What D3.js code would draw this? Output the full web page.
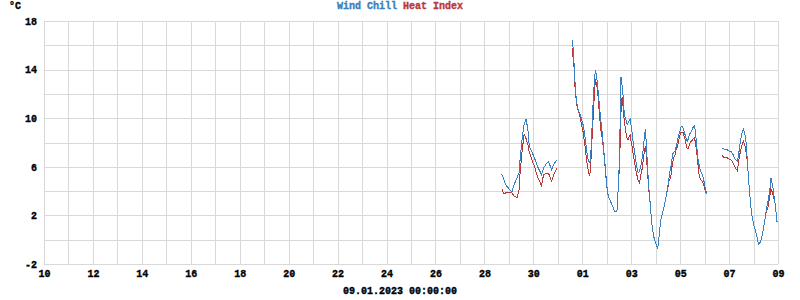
<!DOCTYPE html>
<html>
<head>
<meta charset="utf-8">
<script src="https://cdn.jsdelivr.net/npm/d3@7"></script>
<style>
    body { margin: 0; background: #fff; }
    svg text { font-family: "Liberation Mono", "DejaVu Sans Mono", monospace; font-size: 10px; font-weight: bold; fill: #000; stroke: #000; stroke-width: 0.35px; }
    svg tspan { stroke-width: 0.35px; }
    .grid line { stroke: #d9d9d9; shape-rendering: crispEdges; }
    .grid .domain { display: none; }
    .axis .domain { display: none; }
    .axis line { display: none; }
    .series { fill: none; stroke-width: 1; shape-rendering: crispEdges; }
</style>
</head>
<body>
<div id="chart"></div>
<script>
// hourly readings, null = no data
const times = [
    "2022-12-28 17:00", "2022-12-28 19:00", "2022-12-28 21:00",
    "2022-12-29 01:00", "2022-12-29 03:00", "2022-12-29 05:00", "2022-12-29 08:00", "2022-12-29 10:00",
    "2022-12-29 11:00", "2022-12-29 13:00", "2022-12-29 15:00", "2022-12-29 17:00", "2022-12-29 19:00",
    "2022-12-29 20:00", "2022-12-29 23:00",
    "2022-12-30 01:00", "2022-12-30 04:00", "2022-12-30 08:00", "2022-12-30 10:00", "2022-12-30 13:00",
    "2022-12-30 15:00", "2022-12-30 18:00", "2022-12-30 20:00", "2022-12-30 23:00",
    "2022-12-31 06:00",
    "2022-12-31 14:00", "2022-12-31 15:00", "2022-12-31 16:00", "2022-12-31 17:00", "2022-12-31 18:00",
    "2022-12-31 19:00", "2022-12-31 20:00", "2022-12-31 21:00", "2022-12-31 22:00", "2022-12-31 23:00",
    "2023-01-01 00:00", "2023-01-01 01:00", "2023-01-01 02:00", "2023-01-01 03:00", "2023-01-01 04:00",
    "2023-01-01 05:00", "2023-01-01 06:00", "2023-01-01 07:00", "2023-01-01 08:00", "2023-01-01 09:00",
    "2023-01-01 10:00", "2023-01-01 11:00", "2023-01-01 12:00", "2023-01-01 13:00", "2023-01-01 14:00",
    "2023-01-01 15:00", "2023-01-01 16:00", "2023-01-01 17:00", "2023-01-01 18:00", "2023-01-01 19:00",
    "2023-01-01 20:00", "2023-01-01 21:00", "2023-01-01 22:00", "2023-01-01 23:00",
    "2023-01-02 00:00", "2023-01-02 01:00", "2023-01-02 02:00", "2023-01-02 03:00", "2023-01-02 04:00",
    "2023-01-02 05:00", "2023-01-02 06:00", "2023-01-02 07:00", "2023-01-02 08:00", "2023-01-02 09:00",
    "2023-01-02 10:00", "2023-01-02 11:00", "2023-01-02 12:00", "2023-01-02 13:00", "2023-01-02 14:00",
    "2023-01-02 15:00", "2023-01-02 16:00", "2023-01-02 17:00", "2023-01-02 18:00", "2023-01-02 19:00",
    "2023-01-02 20:00", "2023-01-02 21:00", "2023-01-02 22:00", "2023-01-02 23:00",
    "2023-01-03 00:00", "2023-01-03 01:00", "2023-01-03 02:00", "2023-01-03 03:00", "2023-01-03 04:00",
    "2023-01-03 05:00", "2023-01-03 06:00", "2023-01-03 07:00", "2023-01-03 08:00", "2023-01-03 09:00",
    "2023-01-03 10:00", "2023-01-03 11:00", "2023-01-03 12:00", "2023-01-03 13:00", "2023-01-03 14:00",
    "2023-01-03 15:00", "2023-01-03 16:00", "2023-01-03 17:00", "2023-01-03 18:00", "2023-01-03 19:00",
    "2023-01-03 20:00", "2023-01-03 21:00", "2023-01-03 22:00", "2023-01-03 23:00",
    "2023-01-04 00:00", "2023-01-04 01:00", "2023-01-04 02:00", "2023-01-04 03:00", "2023-01-04 04:00",
    "2023-01-04 05:00", "2023-01-04 06:00", "2023-01-04 07:00", "2023-01-04 08:00", "2023-01-04 09:00",
    "2023-01-04 10:00", "2023-01-04 11:00", "2023-01-04 12:00", "2023-01-04 13:00", "2023-01-04 14:00",
    "2023-01-04 15:00", "2023-01-04 16:00", "2023-01-04 17:00", "2023-01-04 18:00", "2023-01-04 19:00",
    "2023-01-04 20:00", "2023-01-04 21:00", "2023-01-04 22:00", "2023-01-04 23:00",
    "2023-01-05 00:00", "2023-01-05 01:00", "2023-01-05 02:00", "2023-01-05 03:00", "2023-01-05 04:00",
    "2023-01-05 05:00", "2023-01-05 06:00", "2023-01-05 07:00", "2023-01-05 08:00", "2023-01-05 09:00",
    "2023-01-05 10:00", "2023-01-05 11:00", "2023-01-05 12:00", "2023-01-05 13:00", "2023-01-05 14:00",
    "2023-01-05 15:00", "2023-01-05 16:00", "2023-01-05 17:00", "2023-01-05 18:00", "2023-01-05 19:00",
    "2023-01-05 20:00", "2023-01-05 21:00", "2023-01-05 22:00", "2023-01-05 23:00",
    "2023-01-06 00:00", "2023-01-06 01:00", "2023-01-06 02:00",
    "2023-01-06 08:00",
    "2023-01-06 17:00", "2023-01-06 18:00", "2023-01-06 19:00", "2023-01-06 20:00", "2023-01-06 21:00",
    "2023-01-06 22:00", "2023-01-06 23:00",
    "2023-01-07 00:00", "2023-01-07 01:00", "2023-01-07 02:00", "2023-01-07 03:00", "2023-01-07 04:00",
    "2023-01-07 05:00", "2023-01-07 06:00", "2023-01-07 07:00", "2023-01-07 08:00", "2023-01-07 09:00",
    "2023-01-07 10:00", "2023-01-07 11:00", "2023-01-07 12:00", "2023-01-07 13:00", "2023-01-07 14:00",
    "2023-01-07 15:00", "2023-01-07 16:00", "2023-01-07 17:00", "2023-01-07 18:00", "2023-01-07 19:00",
    "2023-01-07 20:00", "2023-01-07 21:00", "2023-01-07 22:00", "2023-01-07 23:00",
    "2023-01-08 00:00", "2023-01-08 01:00", "2023-01-08 02:00", "2023-01-08 03:00", "2023-01-08 04:00",
    "2023-01-08 05:00", "2023-01-08 06:00", "2023-01-08 07:00", "2023-01-08 08:00", "2023-01-08 09:00",
    "2023-01-08 10:00", "2023-01-08 11:00", "2023-01-08 12:00", "2023-01-08 13:00", "2023-01-08 14:00",
    "2023-01-08 15:00", "2023-01-08 16:00", "2023-01-08 17:00", "2023-01-08 18:00", "2023-01-08 19:00",
    "2023-01-08 20:00", "2023-01-08 21:00", "2023-01-08 22:00", "2023-01-08 23:00",
    "2023-01-09 00:00"
];

const windChill = [
    5.4, 5.0, 4.5,
    4.1, 3.9, 4.5, 5.1, 5.5, 6.6, 8.3, 9.5, 9.95, 8.8, 7.7, 7.15,
    6.75, 6.05, 5.35, 5.9, 6.3, 6.4, 5.75, 6.2, 6.55,
    null,
    16.4, 15.8, 14.4, 12.8, 11.7, 11.1, 10.7, 10.5, 10.3, 10.0,
    9.7, 9.4, 8.9, 8.3, 7.55, 6.9, 6.5, 6.35, 6.5, 8.1, 10.0, 11.9, 13.2, 14.0, 13.5, 12.7, 11.8, 10.9, 10.0, 9.3, 8.4, 7.4, 6.5, 5.5,
    4.5, 3.8, 3.5, 3.3, 3.1, 2.9, 2.75, 2.5, 2.3, 2.3, 2.3, 3.8, 5.5, 9.0, 13.4, 12.7, 11.9, 10.6, 10.1, 9.8, 9.5, 9.6, 9.8, 9.9,
    9.3, 8.8, 7.9, 7.4, 6.8, 6.2, 5.8, 5.5, 5.6, 5.9, 6.3, 6.9, 7.6, 8.5, 9.1, 7.5, 6.2, 4.5, 3.6, 2.6, 1.5, 0.8, 0.3, 0.0,
    -0.3, -0.5, -0.75, 0.0, 0.8, 1.6, 2.0, 2.3, 2.6, 3.0, 3.4, 3.9, 4.4, 5.0, 5.6, 6.0, 6.6, 7.1, 7.2, 7.3, 7.6, 8.0, 8.4, 8.7,
    9.0, 9.3, 9.3, 9.2, 8.9, 8.6, 8.3, 8.1, 8.3, 8.6, 8.8, 8.9, 9.1, 9.3, 9.4, 8.9, 8.0, 7.0, 6.4, 6.0, 5.65, 5.5, 5.3, 5.0,
    4.5, 4.1, 3.75,
    null,
    7.55, 7.5, 7.45, 7.4, 7.4, 7.4, 7.35,
    7.3, 7.3, 7.25, 7.1, 7.0, 6.8, 6.6, 6.55, 6.45, 6.8, 7.4, 8.0, 8.5, 8.85, 9.1, 8.9, 8.5, 7.7, 6.4, 5.2, 4.0, 3.1, 2.2, 1.7,
    1.3, 1.0, 0.7, 0.4, 0.0, -0.4, -0.3, -0.1, 0.2, 0.5, 1.1, 1.6, 2.1, 2.7, 3.1, 3.6, 4.1, 5.1, 4.7, 4.3, 3.6, 3.1, 2.3, 1.5,
    1.5
];

const heatIndex = [
    4.2, 3.8, 3.85,
    3.85, 3.85, 3.6, 3.45, 4.1, 5.5, 7.3, 8.7, 8.3, 7.7, 7.2, 6.5,
    6.05, 5.2, 4.45, 5.35, 5.45, 5.45, 4.8, 5.35, 5.9,
    null,
    15.8, 15.0, 14.1, 12.4, 11.6, 10.9, 10.6, 10.35, 10.0, 9.6,
    9.2, 8.8, 8.1, 7.5, 6.75, 6.1, 5.6, 5.25, 5.6, 7.4, 9.0, 10.5, 12.3, 13.2, 12.8, 12.3, 11.2, 10.2, 9.1, 8.7, 8.1, 7.2, 6.4, 5.4,
    4.4, 3.75, 3.45, 3.3, 3.1, 2.9, 2.75, 2.5, 2.3, 2.3, 2.3, 3.8, 5.3, 7.5, 10.5, 11.7, 11.0, 10.0, 9.3, 8.7, 8.3, 8.25, 8.5, 8.6,
    8.0, 7.6, 7.0, 6.5, 6.0, 5.5, 5.2, 4.8, 4.7, 5.0, 5.6, 5.9, 6.7, 7.3, 7.7, 6.8, 5.6, 4.3, 3.6, 2.6, 1.5, 0.8, 0.3, 0.0,
    -0.3, -0.5, -0.75, 0.0, 0.8, 1.6, 2.0, 2.3, 2.6, 3.0, 3.4, 3.9, 4.3, 4.8, 5.0, 5.3, 6.0, 6.5, 6.8, 7.0, 7.4, 7.6, 7.9, 8.3,
    8.7, 8.85, 8.85, 8.8, 8.5, 8.2, 7.8, 7.5, 7.5, 7.8, 8.0, 8.1, 8.2, 8.3, 8.4, 8.0, 7.4, 6.6, 5.7, 5.2, 4.95, 4.85, 4.75, 4.6,
    4.2, 3.95, 3.8,
    null,
    7.0, 6.85, 6.75, 6.75, 6.75, 6.75, 6.7,
    6.65, 6.6, 6.55, 6.45, 6.3, 6.1, 5.95, 5.8, 5.7, 6.2, 6.8, 7.2, 7.6, 7.9, 8.1, 7.9, 7.6, 7.0, 6.4, 5.2, 4.0, 3.1, 2.2, 1.7,
    1.3, 1.0, 0.7, 0.4, 0.0, -0.4, -0.3, -0.1, 0.2, 0.5, 1.1, 1.6, 2.1, 2.4, 2.6, 3.1, 3.6, 4.2, 4.0, 3.7, 3.4, 3.1, 2.3, 1.5,
    1.5
];

const seriesNames = ["Wind Chill", "Heat Index"];
const seriesColors = ["#3a7fbf", "#b8393c"];

const yGridValues = [-2, 0, 2, 4, 6, 8, 10, 12, 14, 16, 18];
const yTickValues = [18, 14, 10, 6, 2, -2];
const startDate = "2022-12-10 00:00";
const endDate = "2023-01-09 00:00";
const unitLabel = "°C";

const width = 800, height = 300;
const plot = { left: 44, right: 778, top: 21, bottom: 264 };

const parseTime = d3.timeParse("%Y-%m-%d %H:%M");
const start = parseTime(startDate);
const end = parseTime(endDate);

const rows = times.map((t, i) => ({ date: parseTime(t), wc: windChill[i], hi: heatIndex[i] }));

const x = d3.scaleTime().domain([start, end]).range([plot.left, plot.right]);
const y = d3.scaleLinear().domain([-2, 18]).range([plot.bottom, plot.top]);

const svg = d3.select("#chart").append("svg")
    .attr("width", width)
    .attr("height", height);

// grid
svg.append("g")
    .attr("class", "grid")
    .attr("transform", `translate(0, ${plot.bottom})`)
    .call(d3.axisBottom(x)
        .tickValues(d3.timeDay.range(start, d3.timeDay.offset(end, 1)))
        .tickSize(-(plot.bottom - plot.top))
        .tickFormat(""));

svg.append("g")
    .attr("class", "grid")
    .attr("transform", `translate(${plot.left}, 0)`)
    .call(d3.axisLeft(y)
        .tickValues(yGridValues)
        .tickSize(-(plot.right - plot.left))
        .tickFormat(""));

// axis labels
let xTicks = d3.range(0, d3.timeDay.count(start, end) + 1, 2).map(d => d3.timeDay.offset(start, d));

svg.append("g")
    .attr("class", "axis")
    .attr("transform", `translate(0, ${plot.bottom})`)
    .call(d3.axisBottom(x)
        .tickValues(xTicks)
        .tickSize(0)
        .tickPadding(6)
        .tickFormat(d3.timeFormat("%d")));

svg.append("g")
    .attr("class", "axis")
    .attr("transform", `translate(${plot.left}, 0)`)
    .call(d3.axisLeft(y)
        .tickValues(yTickValues)
        .tickSize(0)
        .tickPadding(7)
        .tickFormat(d => String(d)));

// lines, heat index first so wind chill sits on top
let keys = ["hi", "wc"];
keys.forEach(k => {
    let line = d3.line()
        .defined(d => d[k] !== null)
        .x(d => x(d.date))
        .y(d => y(d[k]));

    svg.append("path")
        .datum(rows)
        .attr("class", "series")
        .attr("stroke", k === "wc" ? seriesColors[0] : seriesColors[1])
        .attr("d", line);
});

// title + unit
let title = svg.append("text")
    .attr("x", width / 2)
    .attr("y", 9)
    .attr("text-anchor", "middle");

seriesNames.forEach((name, i) => {
    title.append("tspan")
        .style("fill", seriesColors[i])
        .style("stroke", seriesColors[i])
        .text((i > 0 ? " " : "") + name);
});

svg.append("text")
    .attr("x", 9)
    .attr("y", 9)
    .text(unitLabel);

svg.append("text")
    .attr("x", width / 2)
    .attr("y", 294)
    .attr("text-anchor", "middle")
    .text(d3.timeFormat("%d.%m.%Y %H:%M:%S")(end));
</script>
</body>
</html>
